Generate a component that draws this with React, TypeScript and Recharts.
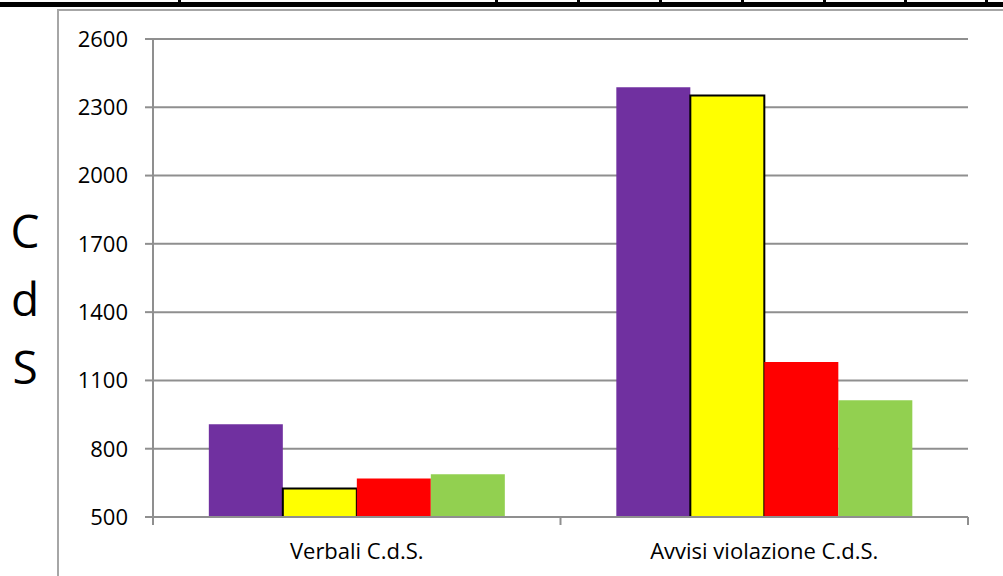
import React from "react";
import { BarChart, Bar, XAxis, YAxis, CartesianGrid } from "recharts";

// categories and series
const categories = ["Verbali C.d.S.", "Avvisi violazione C.d.S."];
const purpleVals = [908, 2388];
const yellowVals = [625, 2352];
const redVals = [669, 1181];
const greenVals = [688, 1013];
const yTicks = [500, 800, 1100, 1400, 1700, 2000, 2300, 2600];
const axisLetters = ["C", "d", "S"];
const topRuleTicks = [179, 496, 578, 660, 742, 824, 905, 986];

const W = 1003;
const H = 576;
const PLOT_LEFT = 153;
const PLOT_RIGHT = 968;
const PLOT_TOP = 39;
const X_AXIS_H = 59;
const PLOT_BOTTOM = H - X_AXIS_H;
const BAND = (PLOT_RIGHT - PLOT_LEFT) / categories.length;
const GRID = "#8f8f8f";
const FONT = "'Open Sans', sans-serif";

const data = categories.map((name, i) => ({
  name,
  purple: purpleVals[i],
  yellow: yellowVals[i],
  red: redVals[i],
  green: greenVals[i],
}));

function XTick(props: any) {
  const { x, index, payload } = props;
  const left = x - BAND / 2;
  const right = x + BAND / 2;
  return (
    <g>
      <line x1={left} x2={left} y1={PLOT_BOTTOM} y2={PLOT_BOTTOM + 8} stroke={GRID} strokeWidth={2} />
      {index === categories.length - 1 && (
        <line x1={right} x2={right} y1={PLOT_BOTTOM} y2={PLOT_BOTTOM + 8} stroke={GRID} strokeWidth={2} />
      )}
      <text x={x} y={PLOT_BOTTOM + 42} textAnchor="middle" fontSize={22} fill="#000" fontFamily={FONT}>
        {payload.value}
      </text>
    </g>
  );
}

export default function App() {
  return (
    <div style={{ position: "absolute", left: 0, top: 0, width: W, height: H, background: "#fff", overflow: "hidden", fontFamily: FONT }}>
      {/* rule of the table above */}
      <div style={{ position: "absolute", left: 0, top: 2, width: W, height: 5, background: "#000" }} />
      {topRuleTicks.map((x) => (
        <div key={x} style={{ position: "absolute", left: x - 1, top: 0, width: 3, height: 7, background: "#000" }} />
      ))}
      {/* chart frame */}
      <div style={{ position: "absolute", left: 57, top: 9, width: W, height: H, borderLeft: "2px solid #a6a6a6", borderTop: "2px solid #a6a6a6" }} />

      {/* vertical axis title */}
      <div style={{ position: "absolute", left: 0, top: 196, width: 50, textAlign: "center", fontSize: 46, lineHeight: "68px", color: "#000" }}>
        {axisLetters.map((l) => (
          <div key={l}>{l}</div>
        ))}
      </div>

      <div style={{ position: "absolute", left: 0, top: 0 }}>
        <BarChart
          width={W}
          height={H}
          data={data}
          margin={{ top: PLOT_TOP, right: W - PLOT_RIGHT, left: 0, bottom: 0 }}
          barCategoryGap="13.7%"
          barGap={0}
        >
          <CartesianGrid vertical={false} stroke={GRID} strokeWidth={2} />
          <XAxis
            dataKey="name"
            height={X_AXIS_H}
            axisLine={{ stroke: GRID, strokeWidth: 2 }}
            tickLine={false}
            tick={<XTick />}
            interval={0}
          />
          <YAxis
            width={PLOT_LEFT}
            domain={[500, 2600]}
            ticks={yTicks}
            allowDataOverflow
            axisLine={{ stroke: GRID, strokeWidth: 2 }}
            tickLine={{ stroke: GRID, strokeWidth: 2 }}
            tickSize={8}
            tickMargin={17}
            tick={{ fill: "#000", fontSize: 22, fontFamily: FONT }}
          />
          <Bar dataKey="purple" fill="#7030A0" isAnimationActive={false} />
          <Bar dataKey="yellow" fill="#FFFF00" stroke="#000" strokeWidth={2} isAnimationActive={false} />
          <Bar dataKey="red" fill="#FF0000" isAnimationActive={false} />
          <Bar dataKey="green" fill="#92D050" isAnimationActive={false} />
        </BarChart>
      </div>
    </div>
  );
}
